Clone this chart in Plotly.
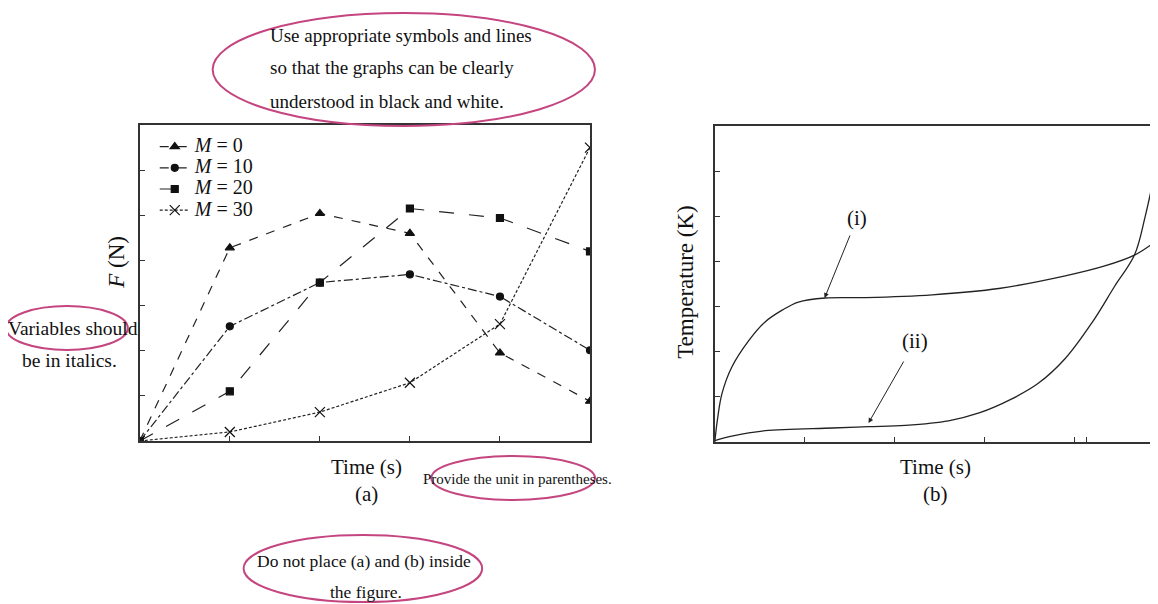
import plotly.graph_objects as go

# The page body adds an 8px margin, so the figure is drawn 8px smaller and
# reference pixel coordinates are shifted by that margin.
OX, OY = 8, 8
W, H = 1158 - OX, 604 - OY
SERIF = "Liberation Serif, Times New Roman, serif"

# ---- data, panel (a) ----
time_a = [0, 1, 2, 3, 4, 5]
m_labels = ["<i>M</i> = 0", "<i>M</i> = 10", "<i>M</i> = 20", "<i>M</i> = 30"]
f_m0 = [0, 4.28, 5.04, 4.60, 1.95, 0.88]
f_m10 = [0, 2.54, 3.51, 3.69, 3.20, 2.01]
f_m20 = [0, 1.10, 3.51, 5.15, 4.94, 4.20]
f_m30 = [0, 0.20, 0.64, 1.29, 2.59, 6.50]

# ---- data, panel (b) ----
time_i = [0, 0.03, 0.08, 0.19, 0.38, 0.56, 0.75, 0.93, 1.23, 1.68, 2.42, 3.16, 3.9, 4.34, 4.67, 4.91]
temp_i = [0, 0.5, 1.07, 1.66, 2.25, 2.66, 2.92, 3.1, 3.19, 3.2, 3.26, 3.4, 3.68, 3.9, 4.14, 4.45]
time_ii = [0, 0.19, 0.56, 1.31, 1.71, 2.12, 2.6, 2.95, 3.3, 3.6, 3.9, 4.2, 4.45, 4.67, 4.79, 4.91]
temp_ii = [0.03, 0.13, 0.25, 0.31, 0.34, 0.37, 0.47, 0.65, 0.95, 1.3, 1.85, 2.65, 3.45, 4.14, 5.0, 6.1]


def px(x):
    return (x - OX) / W


def py(y):
    return 1 - (y - OY) / H


fig = go.Figure()

styles = [
    dict(dash="dash", symbol="triangle-up", size=8),
    dict(dash="dashdot", symbol="circle", size=7),
    dict(dash="longdash", symbol="square", size=7),
    dict(dash="3px,2px", symbol="x-thin", size=10),
]
series = [f_m0, f_m10, f_m20, f_m30]
for lab, ys, st in zip(m_labels, series, styles):
    fig.add_trace(go.Scatter(
        x=time_a, y=ys, mode="lines+markers",
        name="<span style='font-size:20px'>" + lab + "</span>",
        line=dict(color="#222", width=1.2, dash=st["dash"]),
        marker=dict(symbol=st["symbol"], size=st["size"], color="#111",
                    line=dict(color="#111", width=1.2)),
        xaxis="x", yaxis="y",
    ))

for xs, ys in [(time_i, temp_i), (time_ii, temp_ii)]:
    fig.add_trace(go.Scatter(
        x=xs, y=ys, mode="lines", showlegend=False,
        line=dict(color="#222", width=1.3, shape="spline", smoothing=1.0),
        xaxis="x2", yaxis="y2",
    ))

axis_common = dict(showgrid=False, zeroline=False, showline=True, linecolor="#333",
                   linewidth=1.6, mirror=True, ticks="inside", ticklen=5,
                   tickcolor="#333", showticklabels=False)

fig.update_layout(
    width=W, height=H, margin=dict(l=0, r=0, t=0, b=0),
    paper_bgcolor="white", plot_bgcolor="white",
    font=dict(family=SERIF, color="#111"),
    xaxis=dict(domain=[px(140), px(591)], range=[0, 5], tickvals=[1, 2, 3, 4], anchor="y", **axis_common),
    yaxis=dict(domain=[py(441), py(125)], range=[0, 7], tickvals=[1, 2, 3, 4, 5, 6], anchor="x", **axis_common),
    xaxis2=dict(domain=[px(716), 1.0], range=[0, 4.91], tickvals=[1, 2, 3, 4, 4.14], anchor="y2", **axis_common),
    yaxis2=dict(domain=[py(442), py(126)], range=[0, 7], tickvals=[1, 2, 3, 4, 5, 6], anchor="x2", **axis_common),
    legend=dict(x=px(155), y=py(131), xanchor="left", yanchor="top",
                bgcolor="rgba(0,0,0,0)", font=dict(family=SERIF, size=14, color="#111"),
                itemwidth=30, tracegroupgap=0),
    showlegend=True,
)


def text(x, y, s, size=16, angle=0, xanchor="center"):
    fig.add_annotation(x=px(x), y=py(y), xref="paper", yref="paper", text=s,
                       showarrow=False, textangle=angle, xanchor=xanchor, yanchor="middle",
                       font=dict(family=SERIF, size=size, color="#111"))


# axis titles and panel labels
text(116, 262, "<i>F</i> (N)", 23, -90)
text(367, 467, "Time (s)", 21)
text(367, 494, "(a)", 21)
text(686, 282, "Temperature (K)", 23, -90)
text(937, 467, "Time (s)", 21)
text(937, 494, "(b)", 21)

# curve labels with arrows
text(858, 218, "(i)", 21)
text(917, 341, "(ii)", 21)
fig.add_annotation(x=px(826), y=py(298), xref="paper", yref="paper", text="",
                   showarrow=True, ax=26, ay=-64, arrowhead=2, arrowsize=1,
                   arrowwidth=1, arrowcolor="#222")
fig.add_annotation(x=px(870), y=py(423), xref="paper", yref="paper", text="",
                   showarrow=True, ax=36, ay=-63, arrowhead=2, arrowsize=1,
                   arrowwidth=1, arrowcolor="#222")

# guidance notes
text(268, 35, "Use appropriate symbols and lines", 19, xanchor="left")
text(268, 68, "so that the graphs can be clearly", 19, xanchor="left")
text(268, 101, "understood in black and white.", 19, xanchor="left")
text(73, 328, "Variables should", 19.5)
text(70, 361, "be in italics.", 19.5)
text(518, 479, "Provide the unit in parentheses.", 15)
text(365, 561, "Do not place (a) and (b) inside", 17.5)
text(367, 592, "the figure.", 17.5)

PINK = "#c4457f"


def ellipse(x0, y0, x1, y1):
    fig.add_shape(type="circle", xref="paper", yref="paper",
                  x0=px(x0), x1=px(x1), y0=py(y1), y1=py(y0),
                  line=dict(color=PINK, width=2))


ellipse(213, 13, 596, 126)
ellipse(6, 306, 128, 350)
ellipse(432, 456, 596, 500)
ellipse(244, 535, 483, 602)

fig.write_html("out.html")
